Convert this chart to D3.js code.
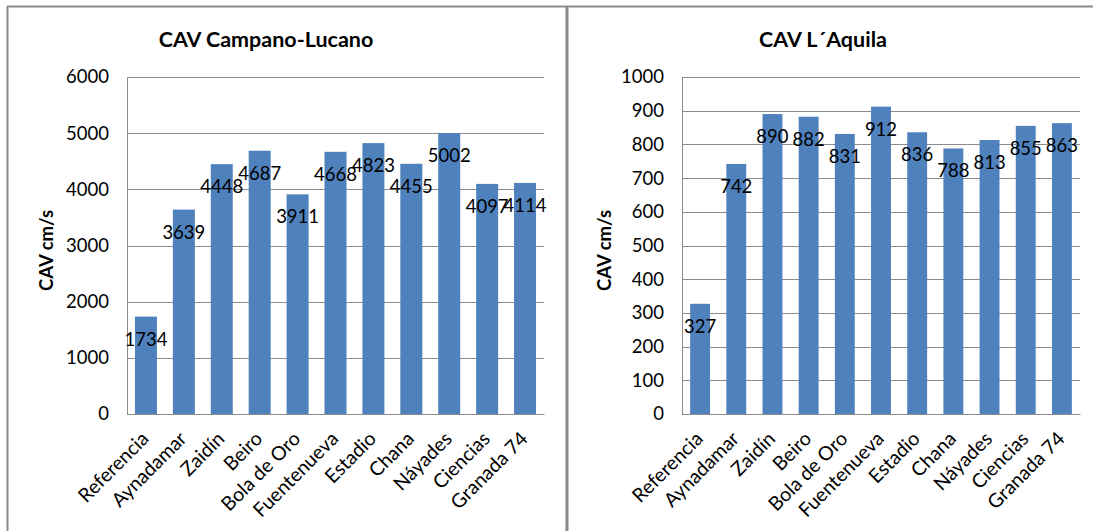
<!DOCTYPE html>
<html><head><meta charset="utf-8">
<script src="https://cdn.jsdelivr.net/npm/d3@7"></script>
<style>
html,body{margin:0;padding:0;background:#fff;}
svg{display:block;font-family:Lato,"Open Sans",sans-serif;}
</style></head>
<body><svg id="c" width="1093" height="531"></svg>
<script>
const categories = ["Referencia","Aynadamar","Zaidín","Beiro","Bola de Oro","Fuentenueva","Estadio","Chana","Náyades","Ciencias","Granada 74"];
const campanoValues = [1734,3639,4448,4687,3911,4668,4823,4455,5002,4097,4114];
const aquilaValues = [327,742,890,882,831,912,836,788,813,855,863];
const campanoTicks = [0,1000,2000,3000,4000,5000,6000];
const aquilaTicks = [0,100,200,300,400,500,600,700,800,900,1000];
const titles = ["CAV Campano-Lucano","CAV L\u00B4Aquila"];
const yTitle = "CAV cm/s";

const svg = d3.select("#c");
const BAR = "#4F81BD", GRID = "#8c8c8c";

// frames
svg.append("rect").attr("x",0).attr("y",0).attr("width",1093).attr("height",531).attr("fill","#fff");
svg.append("line").attr("x1",7).attr("x2",1093).attr("y1",6.5).attr("y2",6.5).attr("stroke","#8a8a8a").attr("stroke-width",2);
svg.append("line").attr("x1",7.5).attr("x2",7.5).attr("y1",6).attr("y2",531).attr("stroke","#8a8a8a").attr("stroke-width",2);
svg.append("line").attr("x1",567).attr("x2",567).attr("y1",6).attr("y2",531).attr("stroke","#8a8a8a").attr("stroke-width",3);

function chart(cfg){
  const g = svg.append("g");
  const x = d3.scaleBand().domain(categories).range([cfg.x0,cfg.x1]).paddingInner(cfg.pad).paddingOuter(cfg.pad/2);
  const y = d3.scaleLinear().domain([0,cfg.ticks[cfg.ticks.length-1]]).range([cfg.y1,cfg.y0]);
  // grid
  const yAxis = d3.axisLeft(y).tickValues(cfg.ticks).tickSize(-(cfg.x1-cfg.x0)).tickPadding(18).tickFormat(d3.format("d"));
  const ya = g.append("g").attr("transform",`translate(${cfg.x0},0)`).call(yAxis);
  ya.select(".domain").attr("stroke",GRID);
  ya.selectAll(".tick line").attr("stroke",GRID).attr("shape-rendering","crispEdges");
  ya.selectAll(".tick text").attr("font-size",18.5).attr("fill","#000").attr("font-family","Lato");
  // bars
  g.selectAll("rect.bar").data(cfg.values).join("rect").attr("class","bar")
    .attr("x",(d,i)=>x(categories[i])).attr("width",x.bandwidth())
    .attr("y",d=>y(d)).attr("height",d=>cfg.y1-y(d)).attr("fill",BAR);
  // x axis
  const xa = g.append("g").attr("transform",`translate(0,${cfg.y1})`).call(d3.axisBottom(x).tickSize(0).tickPadding(0));
  xa.select(".domain").attr("stroke",GRID);
  xa.selectAll(".tick text").attr("font-size",19.5).attr("fill","#000").attr("font-family","Lato")
    .attr("text-anchor","end").attr("dy",0).attr("y",0)
    .attr("transform","translate(4,26) rotate(-45)");
  // data labels
  g.selectAll("text.lbl").data(cfg.values).join("text").attr("class","lbl")
    .attr("x",(d,i)=>x(categories[i])+x.bandwidth()/2).attr("y",d=>y(d)+29)
    .attr("text-anchor","middle").attr("font-size",18.5).attr("fill","#000").text(d=>d);
  // title
  g.append("text").attr("x",cfg.tx).attr("y",47).attr("text-anchor","middle")
    .attr("font-size",21.5).attr("font-weight","bold").text(cfg.title);
  // y title
  g.append("text").attr("transform",`translate(${cfg.ytx},${(cfg.y0+cfg.y1)/2+5}) rotate(-90)`)
    .attr("text-anchor","middle").attr("font-size",18.5).attr("font-weight","bold").text(yTitle);
}

chart({x0:127,x1:544,y0:77,y1:414,ticks:campanoTicks,values:campanoValues,pad:0.42,title:titles[0],tx:266,ytx:53});
chart({x0:682,x1:1080,y0:77,y1:414,ticks:aquilaTicks,values:aquilaValues,pad:0.45,title:titles[1],tx:823,ytx:611});
</script></body></html>
